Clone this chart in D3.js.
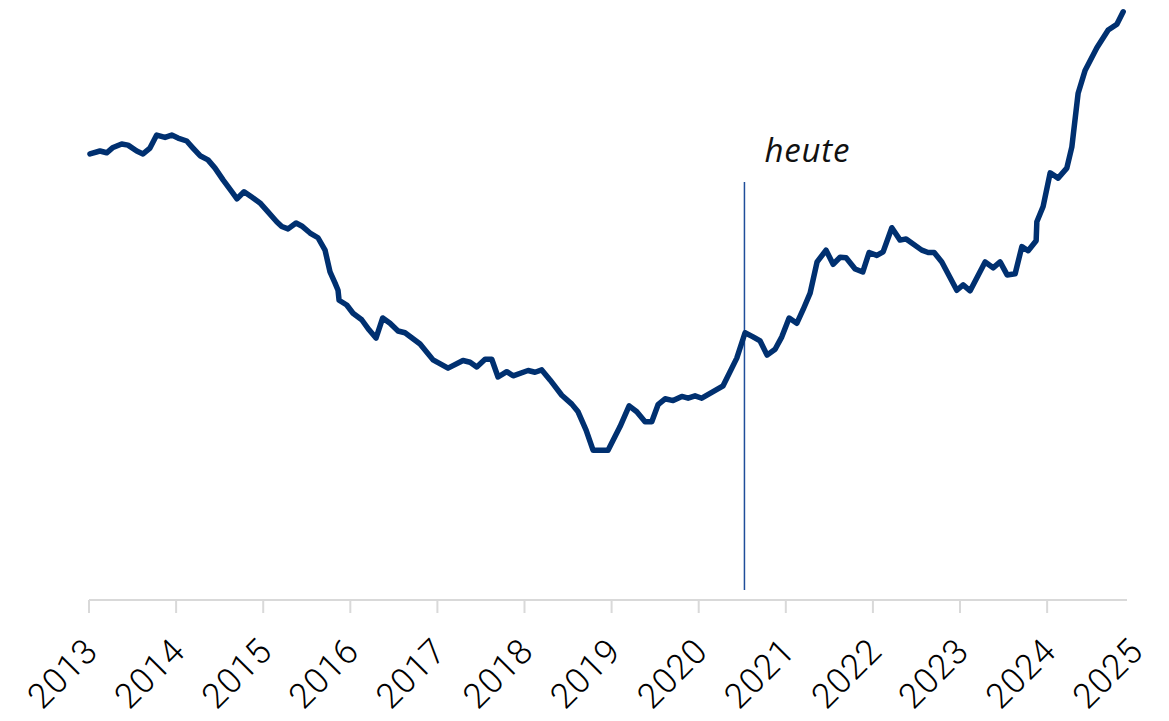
<!DOCTYPE html>
<html>
<head>
<meta charset="utf-8">
<script src="https://cdn.jsdelivr.net/npm/d3@7"></script>
<style>
  html, body { margin: 0; padding: 0; background: #fff; }
  svg { display: block; }
</style>
</head>
<body>
<svg id="chart" width="1169" height="721"></svg>
<script>
// Decimal years of the traced points
const years = [
  2013.011, 2013.126, 2013.203, 2013.276, 2013.375, 2013.448, 2013.548, 2013.620, 2013.700, 2013.777,
  2013.873, 2013.950, 2014.022, 2014.122, 2014.194, 2014.275, 2014.366, 2014.447, 2014.539, 2014.639,
  2014.699, 2014.780, 2014.868, 2014.963, 2015.055, 2015.155, 2015.213, 2015.285, 2015.377, 2015.442,
  2015.538, 2015.629, 2015.710, 2015.767, 2015.825, 2015.859, 2015.871, 2015.959, 2016.031, 2016.131,
  2016.215, 2016.295, 2016.372, 2016.456, 2016.548, 2016.628, 2016.801, 2016.950, 2017.122, 2017.294,
  2017.375, 2017.452, 2017.547, 2017.624, 2017.696, 2017.796, 2017.869, 2018.041, 2018.121, 2018.198,
  2018.293, 2018.428, 2018.543, 2018.615, 2018.707, 2018.787, 2018.959, 2019.097, 2019.201, 2019.289,
  2019.384, 2019.461, 2019.533, 2019.614, 2019.706, 2019.806, 2019.878, 2019.958, 2020.035, 2020.165,
  2020.280, 2020.437, 2020.532, 2020.624, 2020.705, 2020.785, 2020.877, 2020.954, 2021.038, 2021.126,
  2021.198, 2021.279, 2021.359, 2021.462, 2021.543, 2021.623, 2021.692, 2021.796, 2021.884, 2021.956,
  2022.045, 2022.117, 2022.217, 2022.312, 2022.381, 2022.561, 2022.634, 2022.703, 2022.791, 2022.963,
  2023.036, 2023.116, 2023.288, 2023.380, 2023.460, 2023.541, 2023.633, 2023.710, 2023.782, 2023.874,
  2023.882, 2023.954, 2024.035, 2024.126, 2024.226, 2024.284, 2024.356, 2024.437, 2024.571, 2024.701,
  2024.801, 2024.873
];
// Index values (no y axis shown in the original)
const values = [
  75.6, 76.1, 75.8, 76.7, 77.3, 77.1, 76.1, 75.6, 76.6, 78.8,
  78.4, 78.8, 78.3, 77.8, 76.6, 75.3, 74.6, 73.2, 71.2, 69.2,
  68.0, 69.2, 68.3, 67.3, 65.8, 64.1, 63.3, 62.9, 63.9, 63.4,
  62.2, 61.4, 59.3, 55.6, 53.7, 52.5, 50.8, 50.0, 48.6, 47.5,
  45.8, 44.4, 47.8, 46.9, 45.6, 45.3, 43.4, 40.7, 39.3, 40.6,
  40.3, 39.5, 40.8, 40.8, 37.8, 38.7, 38.0, 38.9, 38.6, 39.0,
  37.3, 34.7, 33.2, 31.9, 28.8, 25.4, 25.4, 29.4, 32.9, 31.9,
  30.2, 30.2, 33.1, 34.1, 33.8, 34.5, 34.2, 34.6, 34.2, 35.3,
  36.3, 41.0, 45.3, 44.6, 43.9, 41.5, 42.5, 44.6, 47.8, 46.9,
  49.2, 52.0, 57.3, 59.3, 56.9, 58.1, 58.0, 56.1, 55.6, 58.9,
  58.4, 59.0, 63.1, 61.0, 61.2, 59.3, 58.9, 58.9, 57.3, 52.5,
  53.4, 52.4, 57.3, 56.3, 57.3, 55.1, 55.3, 59.9, 59.2, 60.9,
  64.1, 66.7, 72.4, 71.5, 73.2, 76.8, 85.9, 89.8, 93.6, 96.6,
  97.6, 99.7
];
const tickYears = [2013, 2014, 2015, 2016, 2017, 2018, 2019, 2020, 2021, 2022, 2023, 2024];
const labelYears = [2013, 2014, 2015, 2016, 2017, 2018, 2019, 2020, 2021, 2022, 2023, 2024, 2025];
const todayYear = 2020.525;
const todayLabel = "heute";
const axisEnd = 2024.917;

const svg = d3.select("#chart");
const FONT = "Roboto, 'Noto Sans', sans-serif";

const x = d3.scaleLinear().domain([2013, axisEnd]).range([89, 1127]);
const y = d3.scaleLinear().domain([0, 100]).range([600, 10]);

// x axis
const axisG = svg.append("g").attr("transform", "translate(0,600)");
axisG.append("line")
  .attr("x1", x(2013)).attr("x2", x(axisEnd))
  .attr("y1", 0).attr("y2", 0)
  .attr("stroke", "#d9d9d9").attr("stroke-width", 2);
axisG.selectAll("line.tick")
  .data(tickYears).enter().append("line")
  .attr("class", "tick")
  .attr("x1", d => x(d)).attr("x2", d => x(d))
  .attr("y1", 0).attr("y2", 13)
  .attr("stroke", "#d9d9d9").attr("stroke-width", 2);

svg.append("g").selectAll("text")
  .data(labelYears).enter().append("text")
  .attr("transform", d => `translate(${x(d) + 11},653) rotate(-45)`)
  .attr("text-anchor", "end")
  .attr("font-family", FONT)
  .attr("font-weight", 300)
  .attr("letter-spacing", 1)
  .attr("font-size", 35)
  .attr("fill", "#000")
  .text(d => d);

// today marker
svg.append("line")
  .attr("x1", x(todayYear)).attr("x2", x(todayYear))
  .attr("y1", 182).attr("y2", 590)
  .attr("stroke", "#1f4e9a").attr("stroke-width", 1.5);
svg.append("text")
  .attr("x", x(todayYear) + 20).attr("y", 162)
  .attr("font-family", "'Open Sans', Roboto, sans-serif")
  .attr("font-style", "italic")
  .attr("font-weight", 400)
  .attr("letter-spacing", 0.8)
  .attr("font-size", 33)
  .attr("fill", "#111")
  .text(todayLabel);

// line
const pts = years.map((yr, i) => [yr, values[i]]);
svg.append("path")
  .datum(pts)
  .attr("fill", "none")
  .attr("stroke", "#003070")
  .attr("stroke-width", 5.5)
  .attr("stroke-linejoin", "round")
  .attr("stroke-linecap", "round")
  .attr("d", d3.line().x(d => x(d[0])).y(d => y(d[1])));
</script>
</body>
</html>
